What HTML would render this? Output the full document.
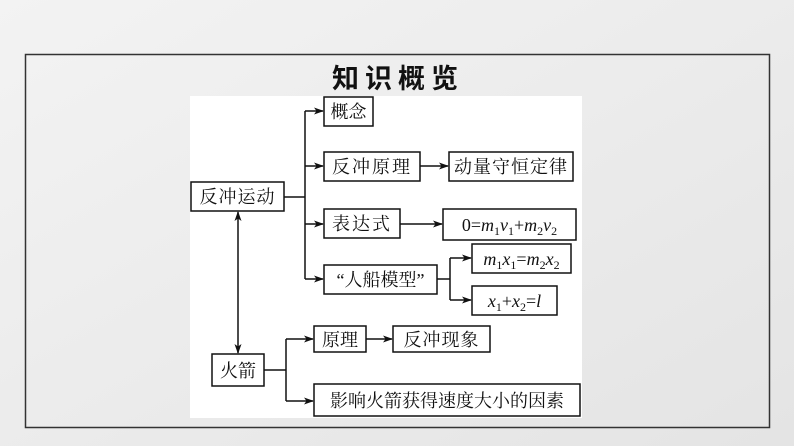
<!DOCTYPE html>
<html><head><meta charset="utf-8"><style>
html,body{margin:0;padding:0;width:794px;height:446px;overflow:hidden;background:#ececec;}
svg{display:block}
text{font-family:"Liberation Serif","Noto Serif CJK SC",serif;font-size:18px;fill:#111;}
.m{font-family:"Liberation Serif",serif;font-style:italic;}
</style></head><body>
<svg width="794" height="446" viewBox="0 0 794 446">
<defs>
<linearGradient id="bg" x1="0" y1="0" x2="1" y2="1"><stop offset="0" stop-color="#f3f3f3"/><stop offset="1" stop-color="#e4e4e4"/></linearGradient>
<marker id="a" markerWidth="10" markerHeight="8" refX="9" refY="4" orient="auto" markerUnits="userSpaceOnUse"><path d="M0,0.5 L10,4 L0,7.5 L2.5,4 Z" fill="#111"/></marker>
<marker id="s" markerWidth="10" markerHeight="8" refX="1" refY="4" orient="auto" markerUnits="userSpaceOnUse"><path d="M10,0.5 L0,4 L10,7.5 L7.5,4 Z" fill="#111"/></marker>
</defs>
<rect width="794" height="446" fill="url(#bg)"/>
<rect x="25.5" y="54.5" width="744" height="373" fill="none" stroke="#333" stroke-width="1.5"/>
<rect x="190" y="96" width="392" height="322" fill="#fff"/>
<text x="398" y="88" text-anchor="middle" style="font-family:'Liberation Sans','Noto Sans CJK SC',sans-serif;font-weight:bold;font-size:27px;letter-spacing:6px">知识概览</text>
<g fill="none" stroke="#111" stroke-width="1.5">
<rect x="324" y="97" width="49" height="29"/>
<rect x="324" y="152" width="96" height="29"/>
<rect x="449" y="152" width="124" height="29"/>
<rect x="191" y="182" width="93" height="29"/>
<rect x="324" y="209" width="76" height="29"/>
<rect x="443" y="209" width="133" height="31"/>
<rect x="324" y="265" width="113" height="29"/>
<rect x="472" y="244" width="99" height="29"/>
<rect x="472" y="286" width="85" height="29"/>
<rect x="314" y="326" width="52" height="26"/>
<rect x="393" y="326" width="97" height="26"/>
<rect x="212" y="354" width="52" height="32"/>
<rect x="314" y="384" width="266" height="32"/>
<path d="M284,197 H305 M305,111 V279"/>
<path d="M305,111 H323" marker-end="url(#a)"/>
<path d="M305,166 H323" marker-end="url(#a)"/>
<path d="M305,224 H323" marker-end="url(#a)"/>
<path d="M305,279 H323" marker-end="url(#a)"/>
<path d="M420,166 H448" marker-end="url(#a)"/>
<path d="M400,224 H442" marker-end="url(#a)"/>
<path d="M437,279 H450 M450,258 V300"/>
<path d="M450,258 H471" marker-end="url(#a)"/>
<path d="M450,300 H471" marker-end="url(#a)"/>
<path d="M238,212 V353" marker-start="url(#s)" marker-end="url(#a)"/>
<path d="M264,370 H286 M286,339 V401"/>
<path d="M286,339 H313" marker-end="url(#a)"/>
<path d="M286,401 H313" marker-end="url(#a)"/>
<path d="M366,339 H392" marker-end="url(#a)"/>
</g>
<text x="348.5" y="118" text-anchor="middle">概念</text>
<text x="372" y="173" text-anchor="middle" style="letter-spacing:2px">反冲原理</text>
<text x="511" y="173" text-anchor="middle" style="letter-spacing:1px">动量守恒定律</text>
<text x="237.5" y="203" text-anchor="middle" style="letter-spacing:1px">反冲运动</text>
<text x="362" y="230" text-anchor="middle" style="letter-spacing:2px">表达式</text>
<text x="509.5" y="231" text-anchor="middle" class="m"><tspan style="font-style:normal">0=</tspan>m<tspan font-size="12" dy="4" style="font-style:normal">1</tspan><tspan dy="-4">v</tspan><tspan font-size="12" dy="4" style="font-style:normal">1</tspan><tspan dy="-4" style="font-style:normal">+</tspan>m<tspan font-size="12" dy="4" style="font-style:normal">2</tspan><tspan dy="-4">v</tspan><tspan font-size="12" dy="4" style="font-style:normal">2</tspan></text>
<text x="380.5" y="286" text-anchor="middle">“人船模型”</text>
<text x="521.5" y="265" text-anchor="middle" class="m">m<tspan font-size="12" dy="4" style="font-style:normal">1</tspan><tspan dy="-4">x</tspan><tspan font-size="12" dy="4" style="font-style:normal">1</tspan><tspan dy="-4" style="font-style:normal">=</tspan>m<tspan font-size="12" dy="4" style="font-style:normal">2</tspan><tspan dy="-4">x</tspan><tspan font-size="12" dy="4" style="font-style:normal">2</tspan></text>
<text x="514.5" y="307" text-anchor="middle" class="m">x<tspan font-size="12" dy="4" style="font-style:normal">1</tspan><tspan dy="-4" style="font-style:normal">+</tspan>x<tspan font-size="12" dy="4" style="font-style:normal">2</tspan><tspan dy="-4" style="font-style:normal">=</tspan>l</text>
<text x="340" y="346" text-anchor="middle">原理</text>
<text x="441.5" y="346" text-anchor="middle" style="letter-spacing:1px">反冲现象</text>
<text x="238" y="377" text-anchor="middle">火箭</text>
<text x="447" y="407" text-anchor="middle">影响火箭获得速度大小的因素</text>
</svg>
</body></html>
